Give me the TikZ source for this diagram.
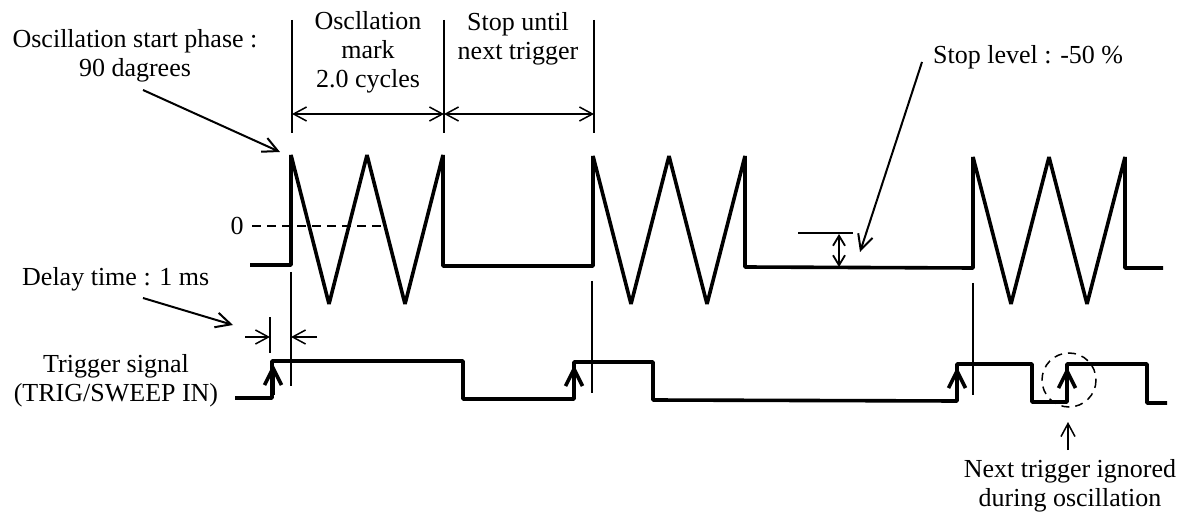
\documentclass[tikz,border=0pt]{standalone}
\usepackage{fontspec}
\setmainfont{Liberation Serif}
\usetikzlibrary{arrows.meta}
\tikzset{
  lbl/.style={inner sep=0pt, align=center, font=\fontsize{26}{29}\selectfont},
  wave/.style={line width=3.6pt, line join=bevel},
  thin/.style={line width=1.5pt},
  dimarr/.style={thin, {Straight Barb[length=13pt,width=14pt]}-{Straight Barb[length=13pt,width=14pt]}},
  leader/.style={line width=2pt, -{Straight Barb[length=15pt,width=15pt]}},
  onearr/.style={thin, -{Straight Barb[length=13pt,width=14pt]}},
  trigarr/.style={line width=3.6pt, -{Straight Barb[length=17pt,width=17pt]}},
  zerodash/.style={thin, dash pattern=on 9pt off 6pt},
}
\begin{document}
\begin{tikzpicture}[x=1pt,y=-1pt]
\useasboundingbox (0,0) rectangle (1182,518);

% ---- text labels
\node[lbl] (phase) at (135,56) {Oscillation start phase :\\90 dagrees};
\node[lbl] (mark) at (368,52) {Oscllation\\mark\\2.0 cycles};
\node[lbl] (stopnext) at (518,39) {Stop until\\next trigger};
\node[lbl, anchor=west] (stoplvl) at (933,57) {Stop level : -50 \%};
\node[lbl] (zero) at (237,226) {0};
\node[lbl, anchor=west] (delay) at (22,279) {Delay time : 1 ms};
\node[lbl] (trigsig) at (116,381) {Trigger signal\\(TRIG/SWEEP IN)};
\node[lbl] (ignored) at (1070,486) {Next trigger ignored\\during oscillation};

% ---- coordinates
\coordinate (p1) at (280,152);
\coordinate (slv) at (860,252);
\coordinate (dly) at (233,325);
\coordinate (ign) at (1068,422);

% ---- top dimension lines
\draw[thin] (292,20) -- (292,133);
\draw[thin] (444,20) -- (444,133);
\draw[thin] (594,20) -- (594,133);
\coordinate (d1) at (292,114);
\coordinate (d2) at (444,114);
\coordinate (d3) at (594,114);
\draw[dimarr] (d1) -- (d2);
\draw[dimarr] (d2) -- (d3);

% ---- leaders
\draw[leader] (143,90) -- (p1);
\draw[leader] (922,62) -- (slv);
\draw[leader] (143,298) -- (dly);

% ---- zero level
\draw[zerodash] (252,226) -- (385,226);

% ---- stop level marker
\draw[thin] (798,233) -- (853,233);
\draw[line width=1.8pt, {Straight Barb[length=10pt,width=12pt]}-{Straight Barb[length=10pt,width=12pt]}] (839,234) -- (839,267);

% ---- output waveform
\draw[wave] (250,265) -- (291,265) -- (291,155) -- (329,304) -- (367,155) -- (405,304) -- (443,155) -- (443,266)
  -- (593,266) -- (593,156) -- (631,304) -- (669,156) -- (707,304) -- (745,156) -- (745,267)
  -- (973,268) -- (973,157) -- (1011,304) -- (1049,157) -- (1087,304) -- (1125,157) -- (1125,268) -- (1163,268);

% ---- guide lines
\draw[thin] (291,272) -- (291,386);
\draw[thin] (592,281) -- (592,393);
\draw[thin] (973,283) -- (973,395);

% ---- delay dimension
\draw[thin] (270,317) -- (270,353);
\draw[onearr] (245,337) -- (270,337);
\draw[onearr] (317,337) -- (291,337);

% ---- trigger waveform
\draw[wave] (235,398) -- (272,398) -- (272,361) -- (463,361) -- (463,399) -- (574,399) -- (574,362) -- (653,362)
  -- (653,400) -- (957,401) -- (957,364) -- (1032,364) -- (1032,402) -- (1067,402) -- (1067,364) -- (1147,364)
  -- (1147,403) -- (1167,403);
\draw[trigarr] (273,395) -- (273,364);
\draw[trigarr] (574,396) -- (574,365);
\draw[trigarr] (957,398) -- (957,367);
\draw[trigarr] (1067,399) -- (1067,367);

% ---- ignored trigger
\draw[thin, dash pattern=on 8pt off 6pt] (1069,380) circle (27);
\draw[onearr] (1068,450) -- (ign);
\end{tikzpicture}
\end{document}
